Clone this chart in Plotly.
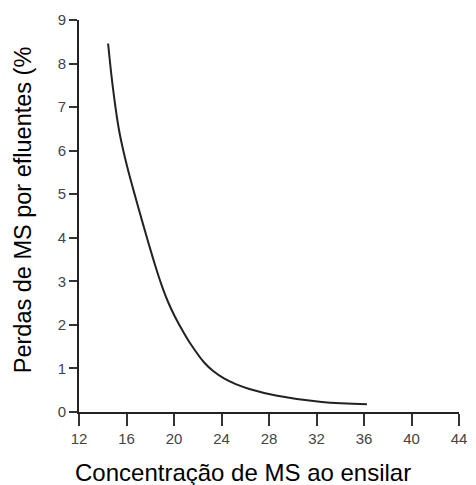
import plotly.graph_objects as go

# Data
ms_concentration = [14.45, 14.83, 15.32, 15.65, 16.07, 16.48, 16.97, 17.30, 17.86, 18.41,
                    18.95, 19.51, 20.06, 20.74, 21.43, 22.56, 23.30, 24.21, 25.20, 26.35,
                    28.58, 32.45, 36.25]
effluent_losses = [8.46, 7.50, 6.55, 6.10, 5.62, 5.20, 4.72, 4.40, 3.87, 3.37,
                   2.92, 2.52, 2.20, 1.86, 1.55, 1.13, 0.94, 0.77, 0.64, 0.53,
                   0.38, 0.23, 0.18]

x_ticks = [12, 16, 20, 24, 28, 32, 36, 40, 44]
y_ticks = [0, 1, 2, 3, 4, 5, 6, 7, 8, 9]

x_title = "Concentração de MS ao ensilar"
y_title = "Perdas de MS por efluentes (%"

FONT = "Arial, Liberation Sans, sans-serif"

fig = go.Figure()
fig.add_trace(go.Scatter(
    x=ms_concentration, y=effluent_losses, mode="lines",
    line=dict(color="#222222", width=2, shape="spline", smoothing=1.0),
    hoverinfo="skip", showlegend=False,
))

fig.update_layout(
    width=476, height=485,
    margin=dict(l=79, r=9, t=20, b=73),
    paper_bgcolor="white", plot_bgcolor="white",
    font=dict(family=FONT, color="#444444", size=15),
    xaxis=dict(
        range=[12, 44], tickvals=x_ticks, ticktext=[str(v) for v in x_ticks],
        showgrid=False, zeroline=False, showline=True, linecolor="#222222", linewidth=2,
        ticks="outside", ticklen=12, tickwidth=2, tickcolor="#333333",
        tickfont=dict(size=15, color="#444444"),
    ),
    yaxis=dict(
        range=[0, 9], tickvals=y_ticks, ticktext=[str(v) for v in y_ticks],
        showgrid=False, zeroline=False, showline=True, linecolor="#222222", linewidth=2,
        ticks="outside", ticklen=8, tickwidth=2, tickcolor="#333333",
        tickfont=dict(size=15, color="#444444"),
    ),
    annotations=[
        dict(text=x_title, xref="paper", yref="paper", x=0.432, y=-0.155,
             xanchor="center", yanchor="middle", showarrow=False,
             font=dict(family=FONT, size=24, color="black")),
        dict(text=y_title, xref="paper", yref="paper", x=-0.147, y=0.515,
             xanchor="center", yanchor="middle", textangle=-90, showarrow=False,
             font=dict(family=FONT, size=23.5, color="black")),
    ],
)

fig.write_html("out.html")
